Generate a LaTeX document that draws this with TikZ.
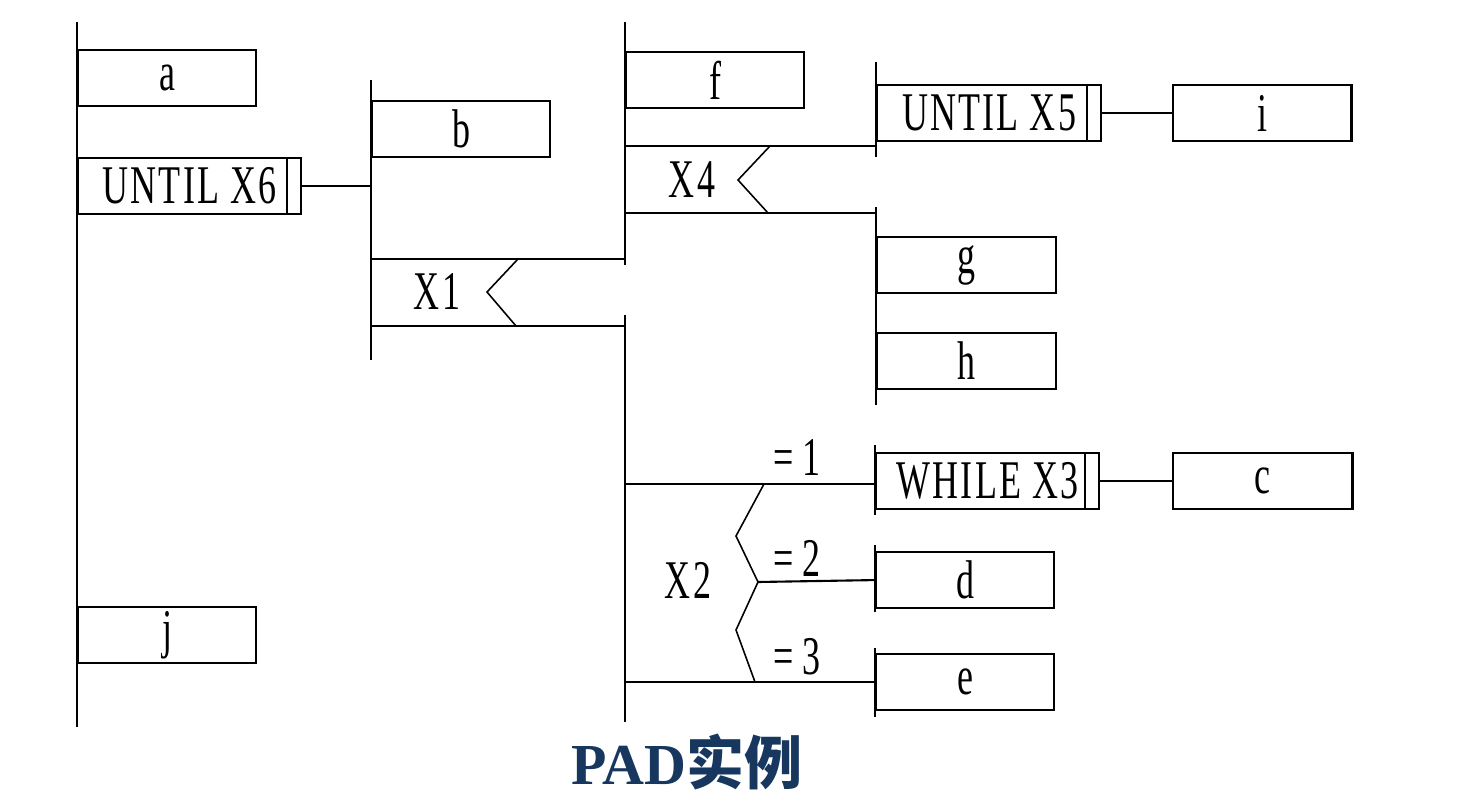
\documentclass[tikz,border=0pt]{standalone}
\usepackage{fontspec}
\usepackage{xcolor}
\usepackage{tikz}
\usetikzlibrary{positioning,calc}
\newfontfamily\padfont[FakeStretch=0.66,LetterSpace=4]{Liberation Serif}
\newfontfamily\titlefont{Liberation Serif}
\newfontfamily\cjk{Noto Sans CJK SC}
\definecolor{padNavy}{HTML}{17375E}
\tikzset{
  stmt/.style={draw,line width=0.6pt,minimum width=1.78cm,minimum height=0.56cm,
    inner sep=0pt,font=\padfont\fontsize{15.5}{15.5}\selectfont},
  loopbox/.style={stmt,minimum width=2.23cm,
    path picture={\draw[line width=0.6pt]
      ([xshift=-0.14cm]path picture bounding box.north east) --
      ([xshift=-0.14cm]path picture bounding box.south east);}},
  bar/.style={line width=0.6pt},
  wire/.style={line width=0.6pt},
  fork/.style={line width=0.45pt},
  condlabel/.style={font=\padfont\fontsize{15.5}{15.5}\selectfont,inner sep=0pt}
}

\begin{document}
\begin{tikzpicture}[x=0.01cm, y=-0.01cm]
  \useasboundingbox (0,0) rectangle (1472,800);

  \foreach \x/\ya/\yb in {77/22/727, 371/80/360, 625/22/265, 625/315/722,
      876/62/157, 876/207/405, 875/445/515, 875/545/612, 875/648/717}
    \draw[bar] (\x,\ya) -- (\x,\yb);

  \node[stmt, anchor=north west] (a) at (77,49) {a};
  \node[loopbox, anchor=north west] (u6) at (77,157) {UNTIL X6\hspace{0.12cm}};
  \node[stmt, anchor=north west] (j) at (77,606) {j};

  \node[stmt, anchor=north west] (b) at (371,100) {b};
  \node[stmt, anchor=north west] (f) at (625,51) {f};

  \node[loopbox, anchor=north west, minimum width=2.24cm] (u5) at (876,84) {UNTIL X5\hspace{0.12cm}};
  \node[stmt, right=0.70cm of u5] (i) {i};
  \node[stmt, anchor=north west, minimum width=1.79cm] (g) at (876,236) {g};
  \node[stmt, anchor=north west, minimum width=1.79cm] (h) at (876,332) {h};

  \node[loopbox, anchor=north west] (w3) at (875,452) {WHILE X3\hspace{0.12cm}};
  \node[stmt, right=0.72cm of w3, minimum width=1.79cm] (c) {c};
  \node[stmt, anchor=north west] (d) at (875,551) {d};
  \node[stmt, anchor=north west] (e) at (875,653) {e};

  \draw[wire] (u6.east) -- (u6.east -| b.west);
  \draw[wire] (u5.east) -- (i.west);
  \draw[wire] (w3.east) -- (c.west);

  \node[condlabel] (x1) at (437,292) {X1};
  \draw[wire] (371,259) -- (625,259);
  \draw[wire] (371,326) -- (625,326);
  \draw[fork] (518,259) -- (487,292) -- (516,326);

  \node[condlabel] (x4) at (692,180) {X4};
  \draw[wire] (625,146) -- (876,146);
  \draw[wire] (625,213) -- (876,213);
  \draw[fork] (770,146) -- (738,180) -- (768,213);

  \node[condlabel] (x2) at (688,580) {X2};
  \coordinate (k2) at (758,582);
  \draw[wire] (625,484) -- (875,484);
  \draw[wire] (k2) -- (d.west);
  \draw[wire] (625,682) -- (875,682);
  \draw[fork] (764,484) -- (736,536) -- (k2) -- (736,630) -- (755,682);
  \node[condlabel] (eq1) at (797,458) {=\,1};
  \node[condlabel] (eq2) at (797,558) {=\,2};
  \node[condlabel] (eq3) at (797,657) {=\,3};

  \node[text=padNavy, font=\fontsize{16.5}{16.5}\selectfont\bfseries] (title) at (687,762)
    {\titlefont PAD\cjk 实例};
\end{tikzpicture}
\end{document}
